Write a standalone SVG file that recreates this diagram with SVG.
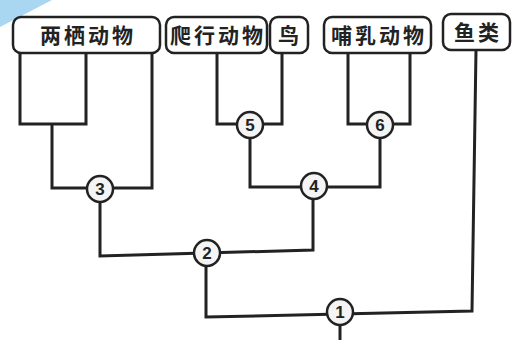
<svg xmlns="http://www.w3.org/2000/svg" width="513" height="340" viewBox="0 0 513 340">
<style>
.box{fill:#fff;stroke:#222;stroke-width:2.5}
.lbl{font-family:"Noto Sans CJK SC",sans-serif;font-size:21px;font-weight:bold;fill:#222;text-anchor:middle;letter-spacing:3px}
.ln{fill:none;stroke:#222;stroke-width:3;stroke-linejoin:miter}
.nd{fill:#f4f4f4;stroke:#222;stroke-width:2.5}
.num{font-family:"Liberation Sans",sans-serif;font-size:17px;font-weight:bold;fill:#222;text-anchor:middle}
</style>
<rect width="513" height="340" fill="#fff"/>
<polygon points="0,0 52,0 0,27" fill="#a9d6f0"/>
<g id="connectors">
<polyline class="ln" points="20,54 20,124 86,124 86,54"/>
<polyline class="ln" points="52,124 52,188 152,188 152,54"/>
<polyline class="ln" points="217,54 217,124 282,124 282,54"/>
<polyline class="ln" points="348,54 348,124 410,124 410,54"/>
<polyline class="ln" points="250,125 250,187 380,187 380,125"/>
<polyline class="ln" points="100,190 100,256 313,250 313,185"/>
<polyline class="ln" points="206,253 206,317 340,314 472,311 476,50"/>
<line class="ln" x1="340" y1="312" x2="340" y2="340"/>
</g>
<g id="amphibian"><rect class="box" x="13" y="17" width="147" height="36" rx="8"/><text class="lbl" x="88" y="43">两栖动物</text></g>
<g id="reptile"><rect class="box" x="166" y="17" width="101" height="36" rx="8"/><text class="lbl" x="218" y="43">爬行动物</text></g>
<g id="bird"><rect class="box" x="270" y="17" width="38" height="36" rx="8"/><text class="lbl" x="290" y="43">鸟</text></g>
<g id="mammal"><rect class="box" x="324" y="17" width="107" height="36" rx="8"/><text class="lbl" x="379" y="43">哺乳动物</text></g>
<g id="fish"><rect class="box" x="443" y="14" width="67" height="36" rx="8"/><text class="lbl" x="478" y="40">鱼类</text></g>
<g id="n1"><circle class="nd" cx="340" cy="312" r="13"/><text class="num" x="340" y="318">1</text></g>
<g id="n2"><circle class="nd" cx="207" cy="253" r="13"/><text class="num" x="207" y="259">2</text></g>
<g id="n3"><circle class="nd" cx="100" cy="189" r="13"/><text class="num" x="100" y="195">3</text></g>
<g id="n4"><circle class="nd" cx="314" cy="186" r="13"/><text class="num" x="314" y="192">4</text></g>
<g id="n5"><circle class="nd" cx="250" cy="125" r="13"/><text class="num" x="250" y="131">5</text></g>
<g id="n6"><circle class="nd" cx="380" cy="125" r="13"/><text class="num" x="380" y="131">6</text></g>
</svg>
